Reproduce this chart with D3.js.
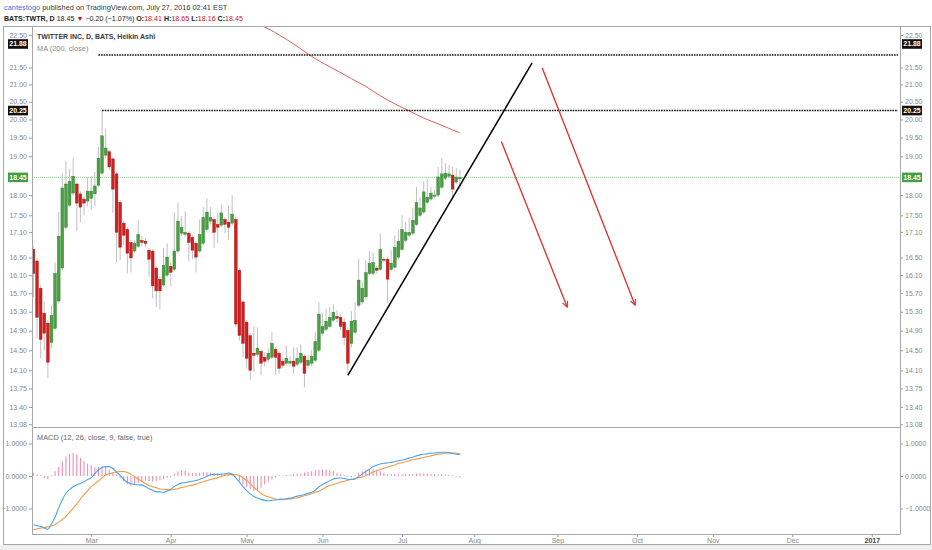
<!DOCTYPE html>
<html>
<head>
<meta charset="utf-8">
<script src="https://cdn.jsdelivr.net/npm/d3@7"></script>
<style>
  body { margin: 0; background: #fff; }
  svg { display: block; font-family: "Liberation Sans", Arial, sans-serif; }
</style>
</head>
<body>
<svg id="chart" width="932" height="550"></svg>
<script>
// ---- data ----
const firstBar = "2016-02-05";
const lastBar = "2016-07-26";
const axisEnd = "2017-01-14";
const holidays = ["2016-02-15", "2016-03-25", "2016-05-30", "2016-07-04"];

// Heikin Ashi candles, one per trading day from firstBar
const haOpen = [16.69,16.42,15.81,15.27,15.06,14.66,14.95,15.53,16.26,17.21,17.75,18.05,18.28,18.03,17.90,17.85,17.92,18.03,18.25,18.56,
  19.03,19.12,18.93,18.54,17.82,17.31,17.16,16.85,16.65,16.76,16.90,16.88,16.67,16.65,16.26,16.01,15.88,16.10,16.30,16.23,
  16.65,17.07,17.04,17.07,16.97,16.83,16.65,16.83,17.16,17.36,17.40,17.28,17.26,17.40,17.33,17.31,17.40,16.21,15.51,15.08,
  14.80,14.44,14.42,14.48,14.36,14.32,14.36,14.52,14.44,14.28,14.24,14.24,14.28,14.22,14.26,14.38,14.20,14.24,14.30,14.50,
  14.85,14.93,14.99,15.12,15.20,15.18,15.08,14.91,14.64,14.87,15.44,15.51,15.62,16.14,16.14,16.26,16.23,16.46,16.46,16.23,
  16.28,16.51,16.69,16.90,17.02,17.07,17.28,17.50,17.58,17.82,17.90,17.97,18.00,18.20,18.43,18.48,18.51,18.33,18.41];
const haHigh = [16.76,16.49,15.88,15.51,15.12,15.44,16.39,17.58,18.56,18.87,18.67,18.95,18.33,18.10,17.97,18.46,18.48,18.59,19.25,20.25,
  19.74,19.17,18.98,18.59,17.87,17.36,17.21,16.90,16.90,17.38,17.00,16.95,16.72,16.69,16.30,16.06,16.72,16.83,16.39,17.56,
  17.82,17.48,17.60,17.12,17.02,16.88,17.40,17.70,17.92,17.70,17.45,17.56,17.77,17.45,17.75,18.00,17.48,16.26,15.55,15.12,
  14.85,14.99,14.97,14.52,14.46,14.54,14.87,14.56,14.48,14.36,14.60,14.38,14.56,14.56,14.62,14.42,14.40,14.50,14.87,15.51,
  15.27,15.37,15.40,15.46,15.33,15.25,15.16,14.97,15.31,15.51,16.46,15.95,16.44,16.65,16.62,16.30,17.07,16.51,16.51,16.67,
  17.02,17.14,17.50,17.33,17.45,17.68,18.20,17.95,18.35,18.41,18.20,18.13,18.72,18.95,18.82,18.77,18.72,18.69,18.65];
const haLow = [15.62,14.74,14.34,14.50,13.95,14.54,14.91,15.48,16.21,17.16,17.70,18.00,17.12,17.33,17.50,17.72,17.63,17.72,18.20,18.51,
  18.95,18.64,17.56,16.39,16.44,16.79,16.14,16.16,16.60,16.72,16.76,16.74,16.06,15.59,15.40,15.35,15.84,16.06,15.86,16.19,
  16.60,17.00,16.97,16.42,16.46,16.16,16.60,16.79,17.12,17.28,16.72,16.83,17.21,17.07,16.90,17.26,14.97,14.70,14.36,14.14,
  13.91,14.08,14.36,14.00,14.18,14.26,14.32,14.02,14.04,14.14,14.20,14.18,14.04,14.18,14.22,13.77,14.14,14.18,14.26,14.46,
  14.80,14.89,14.95,15.08,15.08,14.91,14.60,14.04,14.56,14.83,15.40,15.46,15.57,16.10,16.10,16.14,16.19,16.39,15.48,16.19,
  16.23,16.46,16.65,16.85,16.97,17.02,17.24,17.45,17.53,17.77,17.85,17.92,17.95,18.15,18.38,18.43,17.95,18.28,18.16];
const haClose = [16.14,15.18,14.72,14.85,14.26,15.22,16.14,17.00,18.18,18.28,18.35,18.48,17.80,17.70,17.80,18.10,18.10,18.23,18.95,19.55,
  19.22,18.72,18.15,17.09,16.74,17.02,16.60,16.49,16.83,17.04,16.85,16.83,16.46,15.86,15.75,15.75,16.32,16.51,16.16,16.65,
  17.36,17.21,17.09,16.85,16.67,16.51,17.04,17.45,17.58,17.45,17.09,17.21,17.56,17.28,17.21,17.53,15.04,14.80,14.64,14.34,
  14.10,14.40,14.54,14.24,14.28,14.44,14.64,14.36,14.14,14.20,14.34,14.28,14.18,14.34,14.44,14.04,14.30,14.38,14.68,15.25,
  14.99,15.10,15.18,15.29,15.16,14.99,14.76,14.24,15.10,15.12,15.99,15.81,16.16,16.37,16.39,16.21,16.69,16.44,16.01,16.37,
  16.74,16.88,17.16,17.09,17.09,17.38,17.82,17.68,18.08,17.95,18.05,18.00,18.46,18.54,18.56,18.54,18.15,18.46,18.45];

// MA (200, close): bar index -> value
const maBar = [62, 64, 68, 72, 76, 80, 84, 88, 92, 96, 100, 104, 108, 112, 116, 118];
const maValue = [22.85, 22.75, 22.50, 22.22, 21.91, 21.64, 21.41, 21.17, 20.94, 20.67, 20.44, 20.24, 20.04, 19.88, 19.71, 19.63];

// MACD (12, 26, close, 9)
const macdLine = [-1.50,-1.53,-1.55,-1.60,-1.64,-1.47,-1.27,-0.98,-0.73,-0.53,-0.42,-0.33,-0.27,-0.23,-0.18,-0.11,-0.05,0.07,0.19,0.26,
  0.29,0.29,0.23,0.12,0.02,-0.10,-0.19,-0.24,-0.26,-0.27,-0.28,-0.32,-0.39,-0.44,-0.48,-0.49,-0.50,-0.46,-0.41,-0.32,
  -0.26,-0.22,-0.20,-0.18,-0.16,-0.14,-0.10,-0.06,-0.01,0.04,0.05,0.05,0.06,0.07,0.09,0.06,-0.06,-0.19,-0.33,-0.45,
  -0.55,-0.63,-0.68,-0.72,-0.75,-0.76,-0.75,-0.74,-0.72,-0.71,-0.70,-0.68,-0.65,-0.62,-0.60,-0.57,-0.53,-0.50,-0.44,-0.33,
  -0.26,-0.20,-0.15,-0.09,-0.07,-0.06,-0.08,-0.10,-0.11,-0.09,-0.02,0.06,0.14,0.21,0.29,0.33,0.37,0.39,0.40,0.42,
  0.44,0.47,0.49,0.52,0.55,0.58,0.62,0.65,0.67,0.68,0.70,0.71,0.72,0.73,0.73,0.72,0.69,0.67,0.66];
const signalLine = [-1.65,-1.63,-1.60,-1.59,-1.56,-1.54,-1.49,-1.42,-1.34,-1.24,-1.12,-0.99,-0.86,-0.71,-0.58,-0.45,-0.33,-0.24,-0.15,-0.06,
  0.03,0.07,0.10,0.12,0.14,0.14,0.11,0.05,-0.02,-0.09,-0.16,-0.23,-0.29,-0.33,-0.36,-0.40,-0.41,-0.42,-0.43,-0.41,
  -0.39,-0.35,-0.33,-0.30,-0.28,-0.25,-0.21,-0.18,-0.14,-0.11,-0.08,-0.05,-0.02,0.02,0.04,0.05,0.04,0.02,-0.06,-0.14,
  -0.24,-0.34,-0.45,-0.54,-0.60,-0.64,-0.68,-0.71,-0.73,-0.73,-0.72,-0.71,-0.69,-0.67,-0.64,-0.61,-0.58,-0.54,-0.50,-0.46,
  -0.41,-0.34,-0.29,-0.26,-0.23,-0.19,-0.16,-0.13,-0.10,-0.08,-0.05,-0.03,0.02,0.07,0.12,0.17,0.20,0.24,0.27,0.31,
  0.34,0.39,0.41,0.44,0.47,0.50,0.52,0.55,0.57,0.60,0.62,0.65,0.67,0.68,0.70,0.71,0.71,0.70,0.69];
const macdHist = [0.10,0.05,0.00,-0.07,-0.10,0.02,0.15,0.28,0.45,0.60,0.68,0.71,0.67,0.56,0.46,0.38,0.33,0.27,0.28,0.30,
  0.29,0.20,0.10,0.05,-0.07,-0.16,-0.25,-0.30,-0.26,-0.21,-0.18,-0.14,-0.16,-0.17,-0.16,-0.13,-0.10,-0.06,-0.03,0.06,
  0.14,0.18,0.16,0.11,0.09,0.09,0.10,0.12,0.12,0.10,0.08,0.08,0.08,0.07,0.05,0.03,-0.05,-0.15,-0.26,-0.34,
  -0.41,-0.46,-0.43,-0.36,-0.26,-0.19,-0.11,-0.04,0.00,0.02,0.03,0.04,0.05,0.07,0.08,0.10,0.12,0.15,0.18,0.19,
  0.20,0.20,0.18,0.15,0.10,0.05,0.00,-0.03,-0.05,0.00,0.10,0.15,0.20,0.22,0.20,0.18,0.15,0.10,0.06,0.06,
  0.06,0.05,0.05,0.05,0.06,0.06,0.07,0.08,0.08,0.07,0.06,0.06,0.05,0.05,0.04,0.03,0.00,-0.02,-0.04];

// axes
const priceTicks = [22.50, 21.50, 21.00, 20.50, 20.00, 19.50, 19.00, 18.00, 17.50, 17.10,
  16.50, 16.10, 15.70, 15.30, 14.90, 14.50, 14.10, 13.75, 13.40, 13.08];
const macdTicks = [1, 0, -1];

// drawings: bar index + price
const levelLines = [{ price: 21.88, fromBar: 18 }, { price: 20.25, fromBar: 19 }];
const lastPrice = 18.45;
const trendLine = [{ bar: 87, price: 14.00 }, { bar: 138, price: 21.64 }];
const arrows = [
  [{ bar: 129.5, price: 19.39 }, { bar: 147.7, price: 15.40 }],
  [{ bar: 140.8, price: 21.49 }, { bar: 166.5, price: 15.44 }]
];

// ---- layout ----
const paneL = 32, paneR = 900, priceTop = 27, priceBot = 427, macdBot = 534;
const svg = d3.select("#chart");

const fmtDay = d3.timeFormat("%Y-%m-%d");
const parseDay = d3.timeParse("%Y-%m-%d");
const days = d3.timeDay.range(parseDay(firstBar), parseDay(axisEnd))
  .filter(d => d.getDay() % 6 !== 0)
  .filter(d => d > parseDay(lastBar) || !holidays.includes(fmtDay(d)));

const x = d3.scaleLinear().domain([-0.39, 239.8]).range([paneL, paneR]);
const yP = d3.scaleLog().domain([13.03, 22.75]).range([priceBot, priceTop]);
const yM = d3.scaleLinear().domain([-1.785, 1.508]).range([macdBot, priceBot]);

// month ticks at first trading day of each month
const months = d3.timeMonth.range(parseDay("2016-03-01"), parseDay("2017-01-02"));
const monthIdx = months.map(m => d3.bisectLeft(days, m));
const monthLabel = new Map(monthIdx.map((i, k) =>
  [i, months[k].getMonth() === 0 ? d3.timeFormat("%Y")(months[k]) : d3.timeFormat("%b")(months[k])]));

svg.append("rect").attr("width", 932).attr("height", 550).attr("fill", "#fff");
svg.append("rect").attr("y", 545).attr("width", 932).attr("height", 5).attr("fill", "#efefef");

// header
const head = svg.append("g").attr("font-size", 7.4);
const h1 = head.append("text").attr("x", 4).attr("y", 9.8).attr("fill", "#3b3b3b");
h1.append("tspan").attr("fill", "#2b7bd6").text("cantestogo");
h1.append("tspan").text(" published on TradingView.com, July 27, 2016 02:41 EST");
const h2 = head.append("text").attr("x", 4).attr("y", 20.8).attr("fill", "#222").attr("font-size", 7.1);
[["BATS:TWTR, D ", 700, "#222"], ["18.45 ", 400, "#222"], ["\u25BC ", 400, "#d01010"],
 ["\u22120.20 (\u22121.07%) ", 400, "#222"],
 ["O:", 700, "#222"], ["18.41 ", 400, "#d01010"], ["H:", 700, "#222"], ["18.65 ", 400, "#d01010"],
 ["L:", 700, "#222"], ["18.16 ", 400, "#d01010"], ["C:", 700, "#222"], ["18.45", 400, "#d01010"]]
  .forEach(([t, w, c]) => h2.append("tspan").attr("font-weight", w).attr("fill", c).text(t));

// clip paths
const defs = svg.append("defs");
defs.append("clipPath").attr("id", "clipP").append("rect")
  .attr("x", paneL).attr("y", priceTop).attr("width", paneR - paneL).attr("height", priceBot - priceTop);
defs.append("clipPath").attr("id", "clipM").append("rect")
  .attr("x", paneL).attr("y", priceBot).attr("width", paneR - paneL).attr("height", macdBot - priceBot);
defs.append("marker").attr("id", "arrowHead").attr("viewBox", "0 0 10 10")
  .attr("refX", 9).attr("refY", 5).attr("markerWidth", 7).attr("markerHeight", 7)
  .attr("markerUnits", "userSpaceOnUse").attr("orient", "auto")
  .append("path").attr("d", "M1,1 L9,5 L1,9").attr("fill", "none")
  .attr("stroke", "#e32b2b").attr("stroke-width", 1.6);

// price pane
const pp = svg.append("g").attr("clip-path", "url(#clipP)");

pp.append("line").attr("x1", paneL).attr("x2", paneR)
  .attr("y1", yP(lastPrice)).attr("y2", yP(lastPrice))
  .attr("stroke", "#6cc070").attr("stroke-width", 0.8).attr("stroke-dasharray", "1,1");

const bars = d3.range(haOpen.length);
const up = i => haClose[i] >= haOpen[i];

pp.append("g").selectAll("line").data(bars).join("line")
  .attr("x1", i => x(i)).attr("x2", i => x(i))
  .attr("y1", i => yP(haHigh[i])).attr("y2", i => yP(haLow[i]))
  .attr("stroke", "#b9b9b9").attr("stroke-width", 0.9);

pp.append("g").selectAll("rect").data(bars).join("rect")
  .attr("x", i => x(i) - 1.4).attr("width", 2.8)
  .attr("y", i => yP(Math.max(haOpen[i], haClose[i])))
  .attr("height", i => Math.max(1, Math.abs(yP(haOpen[i]) - yP(haClose[i]))))
  .attr("fill", i => up(i) ? "#4c9e45" : "#cf1f1f")
  .attr("stroke", i => up(i) ? "#2f7d2c" : "#a51515").attr("stroke-width", 0.4);

pp.append("path")
  .attr("d", d3.line().x(d => x(d)).y((d, k) => yP(maValue[k])).curve(d3.curveMonotoneX)(maBar))
  .attr("fill", "none").attr("stroke", "#e0474c").attr("stroke-width", 0.9);

levelLines.forEach(l => {
  pp.append("line").attr("x1", x(l.fromBar)).attr("x2", paneR - 2)
    .attr("y1", yP(l.price)).attr("y2", yP(l.price))
    .attr("stroke", "#111").attr("stroke-width", 1.4).attr("stroke-dasharray", "1.6,1");
});

pp.append("line")
  .attr("x1", x(trendLine[0].bar)).attr("y1", yP(trendLine[0].price))
  .attr("x2", x(trendLine[1].bar)).attr("y2", yP(trendLine[1].price))
  .attr("stroke", "#000").attr("stroke-width", 1.5);

arrows.forEach(a => {
  pp.append("line")
    .attr("x1", x(a[0].bar)).attr("y1", yP(a[0].price))
    .attr("x2", x(a[1].bar)).attr("y2", yP(a[1].price))
    .attr("stroke", "#e32b2b").attr("stroke-width", 1.3).attr("marker-end", "url(#arrowHead)");
});

// macd pane
const mp = svg.append("g").attr("clip-path", "url(#clipM)");
mp.append("g").selectAll("line").data(bars).join("line")
  .attr("x1", i => x(i)).attr("x2", i => x(i))
  .attr("y1", yM(0)).attr("y2", i => macdHist[i] === 0 ? yM(0) - 0.8 : yM(macdHist[i]))
  .attr("stroke", "#ec5f95").attr("stroke-width", 0.8);
mp.append("path")
  .attr("d", d3.line().x(i => x(i)).y(i => yM(signalLine[i])).curve(d3.curveMonotoneX)(bars))
  .attr("fill", "none").attr("stroke", "#f39a45").attr("stroke-width", 1.1);
mp.append("path")
  .attr("d", d3.line().x(i => x(i)).y(i => yM(macdLine[i])).curve(d3.curveMonotoneX)(bars))
  .attr("fill", "none").attr("stroke", "#4aa6e6").attr("stroke-width", 1.1);

// titles
svg.append("text").attr("x", 37).attr("y", 39).attr("font-size", 7).attr("fill", "#3a3a3a")
  .attr("font-weight", 700).text("TWITTER INC, D, BATS, Heikin Ashi");
svg.append("text").attr("x", 37).attr("y", 51).attr("font-size", 7.4).attr("fill", "#8a8a8a")
  .text("MA (200, close)");
svg.append("text").attr("x", 37).attr("y", 440).attr("font-size", 7.4).attr("fill", "#666")
  .text("MACD (12, 26, close, 9, false, true)");

// axes
function styleAxis(g) {
  g.select(".domain").remove();
  g.selectAll(".tick line").attr("stroke", "#999");
  g.selectAll(".tick text").attr("fill", "#888").attr("font-size", 7)
    .attr("font-family", "\"Liberation Sans\", Arial, sans-serif");
}
const f2 = d3.format(".2f"), f4 = d3.format(".4f");
svg.append("g").attr("transform", `translate(${paneR},0)`)
  .call(d3.axisRight(yP).tickValues(priceTicks).tickFormat(f2).tickSize(3).tickPadding(2)).call(styleAxis);
svg.append("g").attr("transform", `translate(${paneL},0)`)
  .call(d3.axisLeft(yP).tickValues(priceTicks).tickFormat(f2).tickSize(3).tickPadding(2)).call(styleAxis);
svg.append("g").attr("transform", `translate(${paneR},0)`)
  .call(d3.axisRight(yM).tickValues(macdTicks).tickFormat(f4).tickSize(3).tickPadding(2)).call(styleAxis);
svg.append("g").attr("transform", `translate(${paneL},0)`)
  .call(d3.axisLeft(yM).tickValues(macdTicks).tickFormat(f4).tickSize(3).tickPadding(2)).call(styleAxis);
svg.append("g").attr("transform", `translate(0,${macdBot})`)
  .call(d3.axisBottom(x).tickValues(monthIdx).tickFormat(i => monthLabel.get(i)).tickSize(3).tickPadding(1))
  .call(styleAxis)
  .call(g => g.selectAll(".tick text").filter(i => monthLabel.get(i).length === 4)
    .attr("fill", "#444").attr("font-weight", 700));

// price labels on both scales; TV pushes the 21.88 tag up to keep clear of 21.50
const priceTags = [
  { price: 21.88, bg: "#111", nudge: -11 },
  { price: 20.25, bg: "#111", nudge: 0 },
  { price: lastPrice, bg: "#3fa046", nudge: 0 }
];
[paneR + 2, 8].forEach(x0 => {
  priceTags.forEach(t => {
    const cy = yP(t.price) + t.nudge;
    svg.append("rect").attr("x", x0).attr("y", cy - 4.8).attr("width", 20).attr("height", 9.6).attr("fill", t.bg);
    svg.append("text").attr("x", x0 + 10).attr("y", cy).attr("dy", "0.34em").attr("text-anchor", "middle")
      .attr("font-size", 7).attr("fill", "#fff").attr("font-weight", 700).text(f2(t.price));
  });
});

// frame
const frame = svg.append("g").attr("stroke", "#a8a8a8").attr("fill", "none");
frame.append("rect").attr("x", 3.5).attr("y", 26.5).attr("width", 927).attr("height", 518);
frame.append("line").attr("x1", paneL + 0.5).attr("x2", paneL + 0.5).attr("y1", 26.5).attr("y2", macdBot + 0.5);
frame.append("line").attr("x1", paneR + 0.5).attr("x2", paneR + 0.5).attr("y1", 26.5).attr("y2", macdBot + 0.5);
frame.append("line").attr("x1", paneL).attr("x2", paneR).attr("y1", priceBot + 0.5).attr("y2", priceBot + 0.5);
frame.append("line").attr("x1", paneL).attr("x2", paneR).attr("y1", macdBot + 0.5).attr("y2", macdBot + 0.5);
</script>
</body>
</html>
